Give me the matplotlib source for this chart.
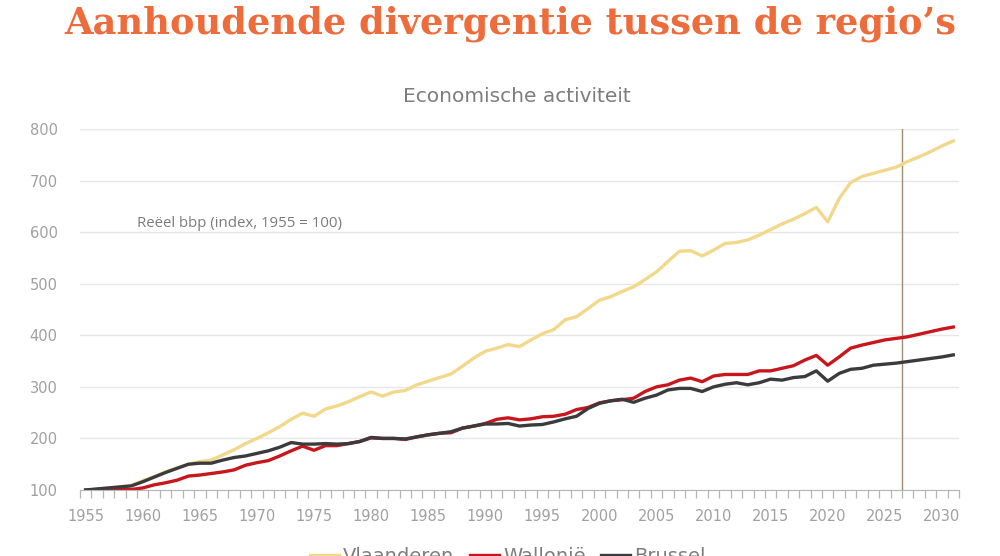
import numpy as np
import matplotlib.pyplot as plt

# ----------------------
# Data
# ----------------------
years = list(range(1955, 2032))

vlaanderen = [100, 102, 104, 106, 109, 118, 126, 135, 143, 150,
              155, 158, 168, 178, 190, 200, 211, 223, 237, 249,
              243, 257, 263, 271, 281, 290, 282, 290, 293, 304,
              311, 318, 325, 340, 356, 369, 375, 382, 378, 391,
              403, 411, 430, 436, 452, 468, 475, 485, 494, 508,
              523, 543, 563, 564, 554, 565, 578, 580, 585, 594,
              605, 616, 625, 636, 648, 620, 665, 696, 708, 714,
              720, 726, 737, 746, 756, 767, 777]

wallonie = [100, 101, 102, 101, 101, 104, 110, 114, 119, 127,
            129, 132, 135, 139, 148, 153, 157, 166, 176, 185,
            177, 186, 186, 190, 194, 201, 200, 200, 198, 203,
            207, 210, 211, 220, 224, 229, 237, 240, 236, 238,
            242, 243, 247, 256, 260, 269, 273, 275, 278, 291,
            300, 304, 313, 317, 310, 321, 324, 324, 324, 331,
            331, 336, 341, 352, 361, 342, 358, 375, 381, 386,
            391, 394, 397, 402, 407, 412, 416]

brussel = [100, 102, 104, 106, 108, 116, 125, 134, 142, 150,
           152, 152, 158, 163, 166, 171, 176, 183, 192, 189,
           189, 190, 189, 190, 194, 202, 200, 200, 199, 203,
           207, 210, 213, 220, 224, 228, 228, 229, 224, 226,
           227, 232, 238, 243, 258, 268, 273, 276, 270, 278,
           284, 294, 297, 297, 291, 300, 305, 308, 304, 308,
           315, 313, 318, 320, 331, 311, 326, 334, 336, 342,
           344, 346, 349, 352, 355, 358, 362]

series_names = ["Vlaanderen", "Wallonië", "Brussel"]
label_years = list(range(1955, 2031, 5))
y_ticks = [100, 200, 300, 400, 500, 600, 700, 800]
forecast_start = 2026.5

# ----------------------
# Figure
# ----------------------
fig = plt.figure(figsize=(10, 5.56), dpi=100)
ax = fig.add_axes([0.08, 0.1187, 0.879, 0.6493])

ax.plot(years, vlaanderen, color="#f2d88a", lw=2.4, label=series_names[0], solid_joinstyle="round")
ax.plot(years, wallonie, color="#c8161d", lw=2.4, label=series_names[1], solid_joinstyle="round")
ax.plot(years, brussel, color="#3b3a3c", lw=2.4, label=series_names[2], solid_joinstyle="round")

ax.axvline(forecast_start, color="#a08b73", lw=1.0, zorder=1)

ax.set_xlim(years[0] - 0.5, years[-1] + 0.5)
ax.set_ylim(100, 800)

ax.set_yticks(y_ticks)
ax.set_xticks(label_years)
ax.set_xticks(np.arange(years[0] - 0.5, years[-1] + 1.0, 1.0), minor=True)
ax.tick_params(axis="x", which="major", length=0, pad=14, labelsize=10.5, labelcolor="#a0a0a0")
ax.tick_params(axis="x", which="minor", length=6, width=0.9, color="#b5b5b5", direction="out")
ax.tick_params(axis="y", length=0, pad=16, labelsize=10.5, labelcolor="#a0a0a0")

ax.grid(axis="y", color="#e6e6e6", lw=1.0)
ax.set_axisbelow(True)
for s in ["top", "right", "left"]:
    ax.spines[s].set_visible(False)
ax.spines["bottom"].set_color("#b5b5b5")

ax.text(1959.5, 616, "Reëel bbp (index, 1955 = 100)", fontsize=10.8, color="#7b7b7b",
        family="Open Sans", va="center")

# titles
fig.text(0.51, 0.958, "Aanhoudende divergentie tussen de regio’s", ha="center", va="center",
         fontsize=26.5, color="#ee6b3b", family="DejaVu Serif", fontweight="bold")
fig.text(0.517, 0.827, "Economische activiteit", ha="center", va="center",
         fontsize=14.5, color="#7d7d7d")

leg = fig.legend(loc="center", bbox_to_anchor=(0.508, 0.0), ncol=3, frameon=False,
                 fontsize=14, labelcolor="#7d7d7d", handlelength=1.5, handletextpad=0.2,
                 columnspacing=0.8)

fig.savefig("out.png", dpi=100)
